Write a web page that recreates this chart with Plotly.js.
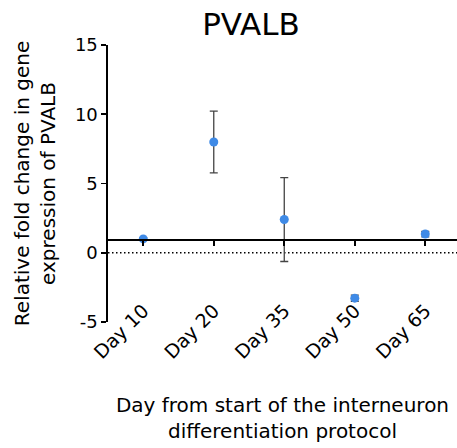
<!DOCTYPE html>
<html>
<head>
<meta charset="utf-8">
<script src="https://cdn.plot.ly/plotly-3.0.1.min.js"></script>
<style>
  html, body { margin: 0; padding: 0; background: #fff; }
  #chart { width: 457px; height: 448px; }
</style>
</head>
<body>
<div id="chart"></div>
<script>
// Sampling days of the interneuron differentiation protocol
const days = ['Day 10', 'Day 20', 'Day 35', 'Day 50', 'Day 65'];
// Mean relative fold change in PVALB expression
const foldChange = [1.0, 8.0, 2.4, -3.28, 1.35];
// Error (± spread) around each mean
const foldError = [0.08, 2.23, 3.03, 0.22, 0.2];
// Y-axis tick values
const yTicks = [-5, 0, 5, 10, 15];

const yMin = -5, yMax = 15;
const baseline = 1; // the x axis crosses the y axis at fold change = 1

const font = 'DejaVu Sans, Verdana, sans-serif';

const trace = {
  type: 'scatter',
  mode: 'markers',
  x: days,
  y: foldChange,
  xaxis: 'x',
  yaxis: 'y',
  marker: { color: '#3f8ae6', size: 9, line: { width: 0 } },
  error_y: {
    type: 'data',
    array: foldError,
    visible: true,
    color: '#444444',
    thickness: 1.3,
    width: 4
  },
  hoverinfo: 'x+y',
  showlegend: false
};

const layout = {
  width: 457,
  height: 448,
  margin: { l: 108, r: 0, t: 45, b: 126, pad: 0 },
  paper_bgcolor: '#ffffff',
  plot_bgcolor: '#ffffff',
  font: { family: font, color: '#000000' },
  title: {
    text: 'PVALB',
    font: { family: font, size: 31, color: '#000000' },
    xref: 'container', x: 251 / 457, xanchor: 'center',
    yref: 'container', y: 1 - 24 / 448, yanchor: 'middle'
  },
  xaxis: {
    type: 'category',
    range: [-0.5, 4.45],
    showline: false,
    showgrid: false,
    zeroline: false,
    ticks: '',
    tickangle: -45,
    ticklabelstandoff: -27,
    tickfont: { family: font, size: 19, color: '#000000' },
    title: {
      text: 'Day from start of the interneuron<br>differentiation protocol',
      font: { family: font, size: 20, color: '#000000' },
      standoff: 36
    }
  },
  xaxis2: {
    type: 'category',
    overlaying: 'x',
    matches: 'x',
    anchor: 'free',
    position: (baseline - yMin) / (yMax - yMin),
    showline: true,
    linecolor: '#000000',
    linewidth: 1.6,
    ticks: 'outside',
    ticklen: 5,
    tickwidth: 1.6,
    tickcolor: '#000000',
    showticklabels: false,
    showgrid: false,
    zeroline: false
  },
  yaxis: {
    range: [yMin, yMax],
    tickvals: yTicks,
    ticktext: yTicks.map(String),
    showline: true,
    linecolor: '#000000',
    linewidth: 1.6,
    ticks: 'outside',
    ticklen: 5,
    tickwidth: 1.6,
    tickcolor: '#000000',
    showgrid: false,
    zeroline: false,
    tickfont: { family: font, size: 18, color: '#000000' },
    title: {
      text: 'Relative fold change in gene<br>expression of PVALB',
      font: { family: font, size: 20, color: '#000000' },
      standoff: 14
    }
  },
  shapes: [
    {
      // dotted reference line at zero
      type: 'line', xref: 'paper', yref: 'y',
      x0: 0, x1: 1, y0: 0, y1: 0,
      line: { color: '#000000', width: 1.5, dash: '1.5px,2.5px' },
      layer: 'below'
    }
  ]
};

// an empty trace on xaxis2 so the crossing axis is drawn
const axisTrace = {
  type: 'scatter', mode: 'none', x: days, y: foldChange.map(() => null),
  xaxis: 'x2', yaxis: 'y', showlegend: false, hoverinfo: 'skip'
};

Plotly.newPlot('chart', [axisTrace, trace], layout, { displayModeBar: false, staticPlot: true });
</script>
</body>
</html>
